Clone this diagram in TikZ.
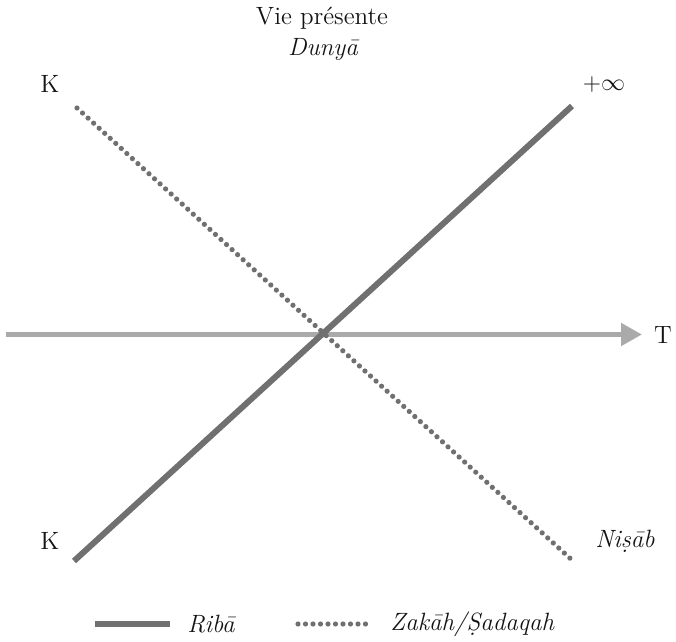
\documentclass[tikz,border=0pt]{standalone}
\usepackage{fontspec}
\usepackage{tikz}
\usetikzlibrary{arrows.meta,positioning,calc}
\definecolor{lineGrey}{RGB}{112, 112, 112}
\definecolor{axisGrey}{RGB}{170, 170, 170}
\definecolor{inkBlack}{RGB}{20, 20, 20}

\tikzset{
    ribaLine/.style={draw=lineGrey, line width=3pt},
    zakahLine/.style={draw=lineGrey, line width=2.6pt, line cap=round, dash pattern=on 0pt off 3.75pt},
    axisLine/.style={draw=axisGrey, line width=2.5pt, -{Triangle[length=10.5pt, width=11pt]}},
    lbl/.style={inner sep=0pt, text=inkBlack, font=\fontsize{12.5pt}{15pt}\selectfont}
}

\begin{document}
\begin{tikzpicture}[x=0.5pt, y=-0.5pt]
    \useasboundingbox (0,0) rectangle (676,642);

    % title
    \node[lbl] (title) at (322,18) {Vie présente};
    \node[lbl, font=\fontsize{12.5pt}{15pt}\selectfont\itshape] (dunya) at (323,50) {Dunyā};

    % end points
    \coordinate (axisStart) at (6,334.5);
    \coordinate (axisEnd) at (642,334.5);
    \coordinate (ribaStart) at (74,561);
    \coordinate (ribaEnd) at (572,106);
    \coordinate (zakahStart) at (77,108);
    \coordinate (zakahEnd) at (573,561);

    % lines
    \draw[axisLine] (axisStart) -- (axisEnd);
    \draw[zakahLine] (zakahStart) -- (zakahEnd);
    \draw[ribaLine] (ribaStart) -- (ribaEnd);

    % labels
    \node[lbl] (kTop) at (50,84) {K};
    \node[lbl] (infty) at (604,85) {$+\infty$};
    \node[lbl] (tLabel) at (663,335) {T};
    \node[lbl] (kBottom) at (50,541) {K};
    \node[lbl, font=\fontsize{12.5pt}{15pt}\selectfont\itshape] (nisab) at (625,541) {Niṣāb};

    % legend
    \coordinate (ribaKeyA) at (95,624);
    \coordinate (ribaKeyB) at (170,624);
    \coordinate (zakahKeyA) at (298,624);
    \coordinate (zakahKeyB) at (372,624);
    \draw[ribaLine] (ribaKeyA) -- (ribaKeyB);
    \draw[zakahLine] (zakahKeyA) -- (zakahKeyB);
    \node[lbl, anchor=west, font=\fontsize{12.5pt}{15pt}\selectfont\itshape] (ribaKey) at (187,624) {Ribā};
    \node[lbl, anchor=west, font=\fontsize{12.5pt}{15pt}\selectfont\itshape] (zakahKey) at (390,624) {Zakāh/Ṣadaqah};
\end{tikzpicture}
\end{document}
